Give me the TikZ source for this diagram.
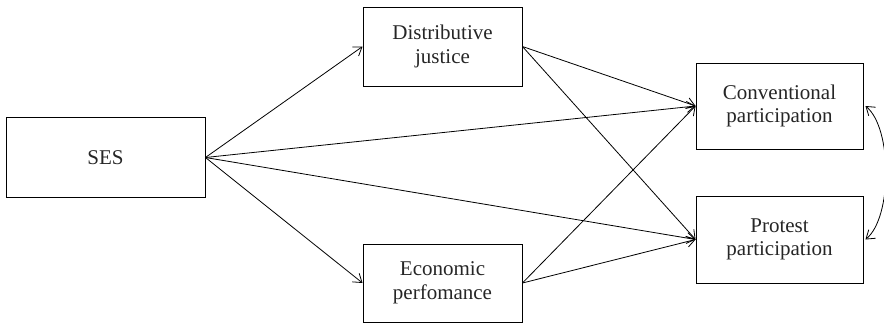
\documentclass[tikz,border=0pt]{standalone}
\usepackage{fontspec}
\setmainfont{Liberation Serif}
\usetikzlibrary{arrows.meta}
\begin{document}
\begin{tikzpicture}[x=1pt,y=-1pt,
  box/.style={draw,line width=0.9pt,rectangle,align=center,inner sep=0pt,font=\fontsize{21}{23.5}\selectfont,text=black!85},
  arr/.style={line width=0.8pt,-{Straight Barb[length=8pt,width=11pt,line width=0.8pt]}},
  darr/.style={line width=0.8pt,{Straight Barb[length=8pt,width=11pt,line width=0.8pt]}-{Straight Barb[length=8pt,width=11pt,line width=0.8pt]}}]
\useasboundingbox (0,0) rectangle (884,324);
\node[box,minimum width=199pt,minimum height=80pt] (ses) at (105.5,157.5) {SES};
\node[box,minimum width=159pt,minimum height=79pt] (dj) at (442.5,46.5) {Distributive\\justice};
\node[box,minimum width=159pt,minimum height=78pt] (ep) at (442.5,283) {Economic\\perfomance};
\node[box,minimum width=167pt,minimum height=86pt] (cp) at (779.5,106) {Conventional\\participation};
\node[box,minimum width=167pt,minimum height=87pt] (pp) at (779.5,239.5) {Protest\\participation};
\draw[arr] (ses.east) -- (dj.west);
\draw[arr] (ses.east) -- (ep.west);
\draw[arr] (ses.east) -- (cp.west);
\draw[arr] (ses.east) -- (pp.west);
\draw[arr] (dj.east) -- (cp.west);
\draw[arr] (dj.east) -- (pp.west);
\draw[arr] (ep.east) -- (cp.west);
\draw[arr] (ep.east) -- (pp.west);
\draw[darr] ([xshift=2pt]cp.east) .. controls +(27,22) and +(27,-22) .. ([xshift=2pt]pp.east);
\end{tikzpicture}
\end{document}
